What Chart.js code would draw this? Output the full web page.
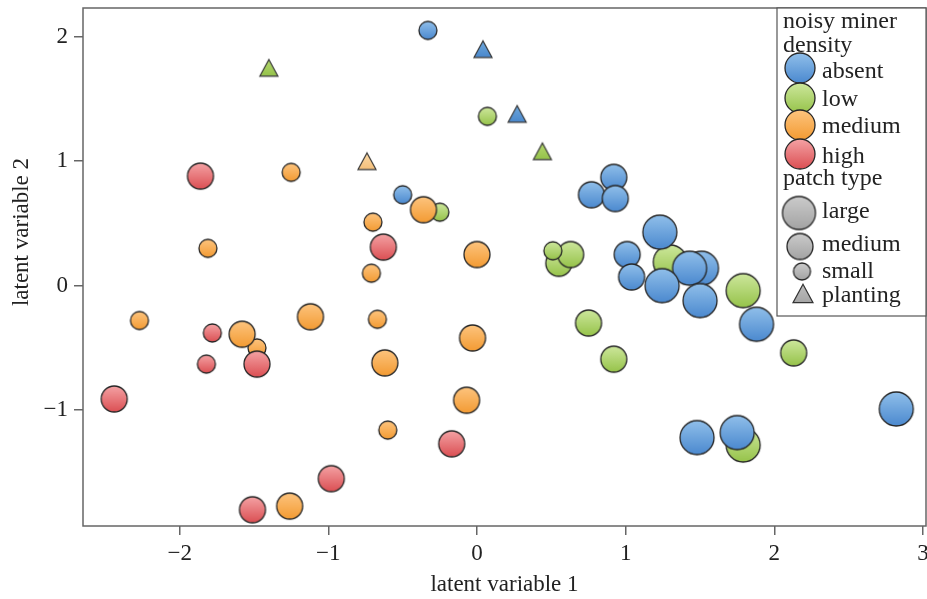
<!DOCTYPE html>
<html>
<head>
<meta charset="utf-8">
<script src="https://cdn.jsdelivr.net/npm/chart.js@4.4.1/dist/chart.umd.min.js"></script>
<style>
  html, body { margin: 0; padding: 0; background: #fff; }
  #wrap { width: 927px; height: 599px; }
</style>
</head>
<body>
<div id="wrap"><canvas id="chart"></canvas></div>
<script>
// [latent variable 1, latent variable 2, patch type]
const absent = [
  [-0.33, 2.05, 'small'], [0.04, 1.90, 'planting'], [0.27, 1.38, 'planting'],
  [-0.50, 0.73, 'small'], [0.92, 0.87, 'medium'], [0.77, 0.73, 'medium'],
  [0.93, 0.70, 'medium'], [1.23, 0.43, 'large'], [1.01, 0.25, 'medium'],
  [1.04, 0.07, 'medium'], [1.51, 0.14, 'large'], [1.43, 0.14, 'large'],
  [1.245, 0.0, 'large'], [1.50, -0.12, 'large'], [1.88, -0.31, 'large'],
  [1.48, -1.22, 'large'], [1.75, -1.18, 'large'], [2.82, -0.99, 'large']
];
const low = [
  [0.07, 1.36, 'small'], [0.44, 1.08, 'planting'], [-1.40, 1.75, 'planting'],
  [-0.25, 0.59, 'small'], [0.55, 0.18, 'medium'], [0.63, 0.25, 'medium'],
  [0.51, 0.28, 'small'], [1.30, 0.19, 'large'], [1.79, -0.04, 'large'],
  [0.75, -0.30, 'medium'], [0.92, -0.59, 'medium'], [2.13, -0.54, 'medium'],
  [1.79, -1.28, 'large']
];
const medium = [
  [-1.25, 0.91, 'small'], [-0.74, 1.00, 'planting'], [-1.81, 0.30, 'small'],
  [-0.70, 0.51, 'small'], [-0.71, 0.10, 'small'], [-0.36, 0.61, 'medium'],
  [0.00, 0.25, 'medium'], [-2.27, -0.28, 'small'], [-1.48, -0.50, 'small'],
  [-1.58, -0.39, 'medium'], [-1.12, -0.25, 'medium'], [-0.67, -0.27, 'small'],
  [-0.62, -0.62, 'medium'], [-0.03, -0.42, 'medium'], [-0.07, -0.92, 'medium'],
  [-0.60, -1.16, 'small'], [-1.26, -1.77, 'medium']
];
const high = [
  [-1.86, 0.88, 'medium'], [-0.63, 0.31, 'medium'], [-1.78, -0.38, 'small'],
  [-1.82, -0.63, 'small'], [-1.48, -0.63, 'medium'], [-2.44, -0.91, 'medium'],
  [-0.17, -1.27, 'medium'], [-0.98, -1.55, 'medium'], [-1.51, -1.80, 'medium']
];

const xTicks = [-2, -1, 0, 1, 2, 3];
const yTicks = [-1, 0, 1, 2];
const densityLabels = ['absent', 'low', 'medium', 'high'];
const patchLabels = ['large', 'medium', 'small', 'planting'];

const FONT = '"Liberation Serif", "Times New Roman", serif';
const fills = {
  absent: ['#90bfea', '#4b89cf'],
  low: ['#cde79c', '#96c34a'],
  medium: ['#fdc47e', '#f39b33'],
  high: ['#f4a2a4', '#db4f53'],
  grey: ['#cbcbcb', '#a3a3a3']
};
const triFills = {
  absent: ['#6fa8dc', '#4a88cc'],
  low: ['#b6d870', '#94c24a'],
  medium: ['#fbdaa8', '#f5c07a'],
  high: ['#f08a8c', '#dc5558'],
  grey: ['#bdbdbd', '#a5a5a5']
};
const radius = { large: 17, medium: 13, small: 9 };

const spriteCache = {};
function sprite(key, patch, r) {
  const id = key + patch + (r || '');
  if (spriteCache[id]) return spriteCache[id];
  const c = document.createElement('canvas');
  const g = c.getContext('2d');
  if (patch === 'planting') {
    const w = r || 18, h = w * 0.92;
    c.width = Math.ceil(w + 4); c.height = Math.ceil(h + 4);
    const cx = c.width / 2, cy = c.height / 2;
    const grad = g.createLinearGradient(0, cy - h / 2, 0, cy + h / 2);
    grad.addColorStop(0, triFills[key][0]);
    grad.addColorStop(1, triFills[key][1]);
    g.beginPath();
    g.moveTo(cx, cy - h / 2);
    g.lineTo(cx + w / 2, cy + h / 2);
    g.lineTo(cx - w / 2, cy + h / 2);
    g.closePath();
    g.fillStyle = grad; g.fill();
    g.lineWidth = 1.2; g.strokeStyle = '#333'; g.stroke();
  } else {
    const rad = r || radius[patch];
    c.width = c.height = Math.ceil(rad * 2 + 4);
    const cx = c.width / 2;
    const grad = g.createLinearGradient(0, cx - rad, 0, cx + rad);
    grad.addColorStop(0, fills[key][0]);
    grad.addColorStop(1, fills[key][1]);
    g.beginPath();
    g.arc(cx, cx, rad, 0, Math.PI * 2);
    g.fillStyle = grad; g.fill();
    g.lineWidth = 1.3; g.strokeStyle = '#262626'; g.stroke();
  }
  spriteCache[id] = c;
  return c;
}

function makeDataset(key, rows) {
  return {
    label: key,
    data: rows.map(r => ({ x: r[0], y: r[1], patch: r[2] })),
    pointStyle: ctx => sprite(key, ctx.raw ? ctx.raw.patch : 'small'),
    pointRadius: ctx => ctx.raw && radius[ctx.raw.patch] ? radius[ctx.raw.patch] : 9,
    backgroundColor: fills[key][1],
    borderColor: '#262626'
  };
}

const frameAndLegend = {
  id: 'frameAndLegend',
  afterDatasetsDraw(chart) {
    const ctx = chart.ctx;
    const a = chart.chartArea;
    ctx.save();
    // plot frame
    ctx.strokeStyle = '#666';
    ctx.lineWidth = 1.5;
    ctx.strokeRect(a.left, a.top, a.right - a.left, a.bottom - a.top);

    // legend box
    const lx = a.right - 149, ly = a.top, lw = 149, lh = 308;
    ctx.fillStyle = '#fff';
    ctx.fillRect(lx, ly, lw, lh);
    ctx.strokeStyle = '#555';
    ctx.lineWidth = 1.2;
    ctx.strokeRect(lx, ly, lw, lh);

    ctx.fillStyle = '#222';
    ctx.font = '24px ' + FONT;
    ctx.textAlign = 'left';
    ctx.textBaseline = 'alphabetic';
    ctx.fillText('noisy miner', lx + 6, ly + 20);
    ctx.fillText('density', lx + 6, ly + 44);
    const densY = [60, 90, 117, 146];
    const textDY = [10, 8, 8, 9];
    densityLabels.forEach((lab, i) => {
      const s = sprite(lab, 'large', 15);
      ctx.drawImage(s, lx + 23 - s.width / 2, ly + densY[i] - s.height / 2);
      ctx.fillText(lab, lx + 45, ly + densY[i] + textDY[i]);
    });
    ctx.fillText('patch type', lx + 6, ly + 177);
    const patchY = [205, 238.5, 263.5, 285.5];
    const patchR = [16.5, 13, 8.5, 20];
    const patchDY = [5, 4, 6.5, 8.5];
    const patchX = [22, 23, 25, 26];
    patchLabels.forEach((lab, i) => {
      const s = sprite('grey', lab === 'planting' ? 'planting' : 'circle', patchR[i]);
      ctx.drawImage(s, lx + patchX[i] - s.width / 2, ly + patchY[i] - s.height / 2);
      ctx.fillText(lab, lx + 45, ly + patchY[i] + patchDY[i]);
    });

    // y axis title
    ctx.translate(28, 232);
    ctx.rotate(-Math.PI / 2);
    ctx.textAlign = 'center';
    ctx.font = '23px ' + FONT;
    ctx.fillText('latent variable 2', 0, 0);
    ctx.restore();
  }
};

const minusFmt = v => (v < 0 ? '\u2212' + Math.abs(v) : String(v));

// Chart.js paints the first dataset on top, so the stacking order is reversed here
new Chart(document.getElementById('chart'), {
  type: 'scatter',
  data: {
    datasets: [
      makeDataset('high', high),
      makeDataset('medium', medium),
      makeDataset('absent', absent),
      makeDataset('low', low)
    ]
  },
  options: {
    responsive: true,
    maintainAspectRatio: false,
    animation: false,
    layout: { autoPadding: false, padding: { left: 0, top: 8, right: 1, bottom: 0 } },
    plugins: { legend: { display: false }, tooltip: { enabled: false } },
    scales: {
      x: {
        type: 'linear',
        min: -2.65,
        max: 3.02,
        afterBuildTicks: s => { s.ticks = xTicks.map(v => ({ value: v })); },
        afterFit: s => { s.height = 73; s.paddingLeft = 0; s.paddingRight = 0; },
        border: { display: false },
        grid: { drawOnChartArea: false, drawTicks: true, tickLength: 9, color: '#666', lineWidth: 1.5 },
        ticks: { color: '#222', font: { family: FONT, size: 23 }, padding: 5, callback: minusFmt, maxRotation: 0 },
        title: { display: true, text: 'latent variable 1', color: '#222', font: { family: FONT, size: 23 }, padding: 0 }
      },
      y: {
        type: 'linear',
        min: -1.93,
        max: 2.23,
        afterBuildTicks: s => { s.ticks = yTicks.map(v => ({ value: v })); },
        afterFit: s => { s.width = 83; s.paddingTop = 0; s.paddingBottom = 0; },
        border: { display: false },
        grid: { drawOnChartArea: false, drawTicks: true, tickLength: 9, color: '#666', lineWidth: 1.5 },
        ticks: { color: '#222', font: { family: FONT, size: 23 }, padding: 6, callback: minusFmt }
      }
    }
  },
  plugins: [frameAndLegend]
});
</script>
</body>
</html>
